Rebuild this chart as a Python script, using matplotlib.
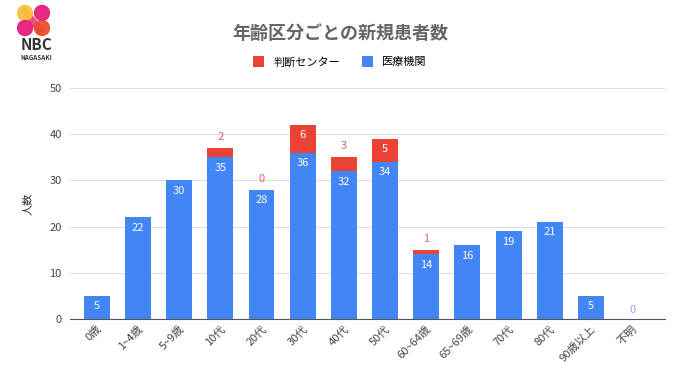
import matplotlib.pyplot as plt
from matplotlib.patches import Circle, Polygon
import numpy as np

plt.rcParams['font.family'] = ['Noto Sans CJK JP', 'DejaVu Sans']

categories = ["0歳", "1~4歳", "5~9歳", "10代", "20代", "30代", "40代", "50代",
              "60~64歳", "65~69歳", "70代", "80代", "90歳以上", "不明"]
iryo = [5, 22, 30, 35, 28, 36, 32, 34, 14, 16, 19, 21, 5, 0]      # 医療機関
center = [0, 0, 0, 2, 0, 6, 3, 5, 1, 0, 0, 0, 0, 0]               # 判断センター
center_shown = [False, False, False, True, True, True, True, True, True,
                False, False, False, False, False]

blue = "#4285F4"
red = "#EA4335"

fig = plt.figure(figsize=(6.8, 3.82), dpi=100)
ax = fig.add_axes([0.103, 0.165, 0.875, 0.605])

x = np.arange(len(categories))
w = 0.63
ax.bar(x, iryo, w, color=blue, label="医療機関", zorder=2)
ax.bar(x, center, w, bottom=iryo, color=red, label="判断センター", zorder=2)

for i in x:
    v = iryo[i]
    if v > 0:
        ax.text(i, v - 1.2, str(v), ha="center", va="top", color="white", fontsize=8)
    else:
        ax.text(i, 2.0, "0", ha="center", va="center", color="#8fa8d8", fontsize=8)
    if center_shown[i]:
        c = center[i]
        top = iryo[i] + c
        if c >= 4:
            ax.text(i, top - 1.2, str(c), ha="center", va="top", color="white", fontsize=8)
        else:
            ax.text(i, top + 1.3, str(c), ha="center", va="bottom", color="#d9675d", fontsize=8)

ax.set_ylim(0, 50)
ax.set_xlim(-0.65, 13.8)
ax.set_yticks([0, 10, 20, 30, 40, 50])
ax.grid(axis="y", color="#dddddd", linewidth=0.8, zorder=0)
for s in ["top", "right", "left"]:
    ax.spines[s].set_visible(False)
ax.spines["bottom"].set_color("#555555")
ax.tick_params(axis="y", length=0, labelsize=8, colors="#444444", pad=6)
ax.tick_params(axis="x", length=0, labelsize=8, colors="#444444")
ax.set_xticks(x)
ax.set_xticklabels(categories, rotation=45, ha="right", rotation_mode="anchor")
ax.set_ylabel("人数", fontsize=8, color="#333333", labelpad=12)

fig.text(0.5, 0.912, "年齢区分ごとの新規患者数", ha="center", va="center",
         fontsize=13, fontweight="bold", color="#666666")

h, l = ax.get_legend_handles_labels()
fig.legend(h[::-1], l[::-1], loc="center", bbox_to_anchor=(0.5, 0.838), ncol=2,
           frameon=False, fontsize=8, handlelength=1.0, handleheight=1.1,
           columnspacing=2.0, handletextpad=0.8)

# logo
logo = fig.add_axes([17 / 680, 1 - 37 / 382, 33 / 680, 33 / 382])
logo.set_xlim(0, 33)
logo.set_ylim(0, 33)
logo.axis("off")
logo.add_patch(Polygon([(3, 27), (9, 28), (28, 6), (22, 4)], closed=True,
                       color="#f0306a", alpha=0.85))
for (cx, cy, col) in [(8, 24, "#f9c23c"), (25, 24, "#e3197c"),
                      (8, 9, "#e3197c"), (25, 9, "#f04a2c")]:
    logo.add_patch(Circle((cx, cy), 7.5, color=col, alpha=0.92))
fig.text(36 / 680, 1 - 45 / 382, "NBC", ha="center", va="center", fontsize=11,
         fontweight="bold", color="#333333")
fig.text(36 / 680, 1 - 57 / 382, "NAGASAKI", ha="center", va="center", fontsize=4.5,
         fontweight="bold", color="#333333")

fig.savefig("out.png", dpi=100)
